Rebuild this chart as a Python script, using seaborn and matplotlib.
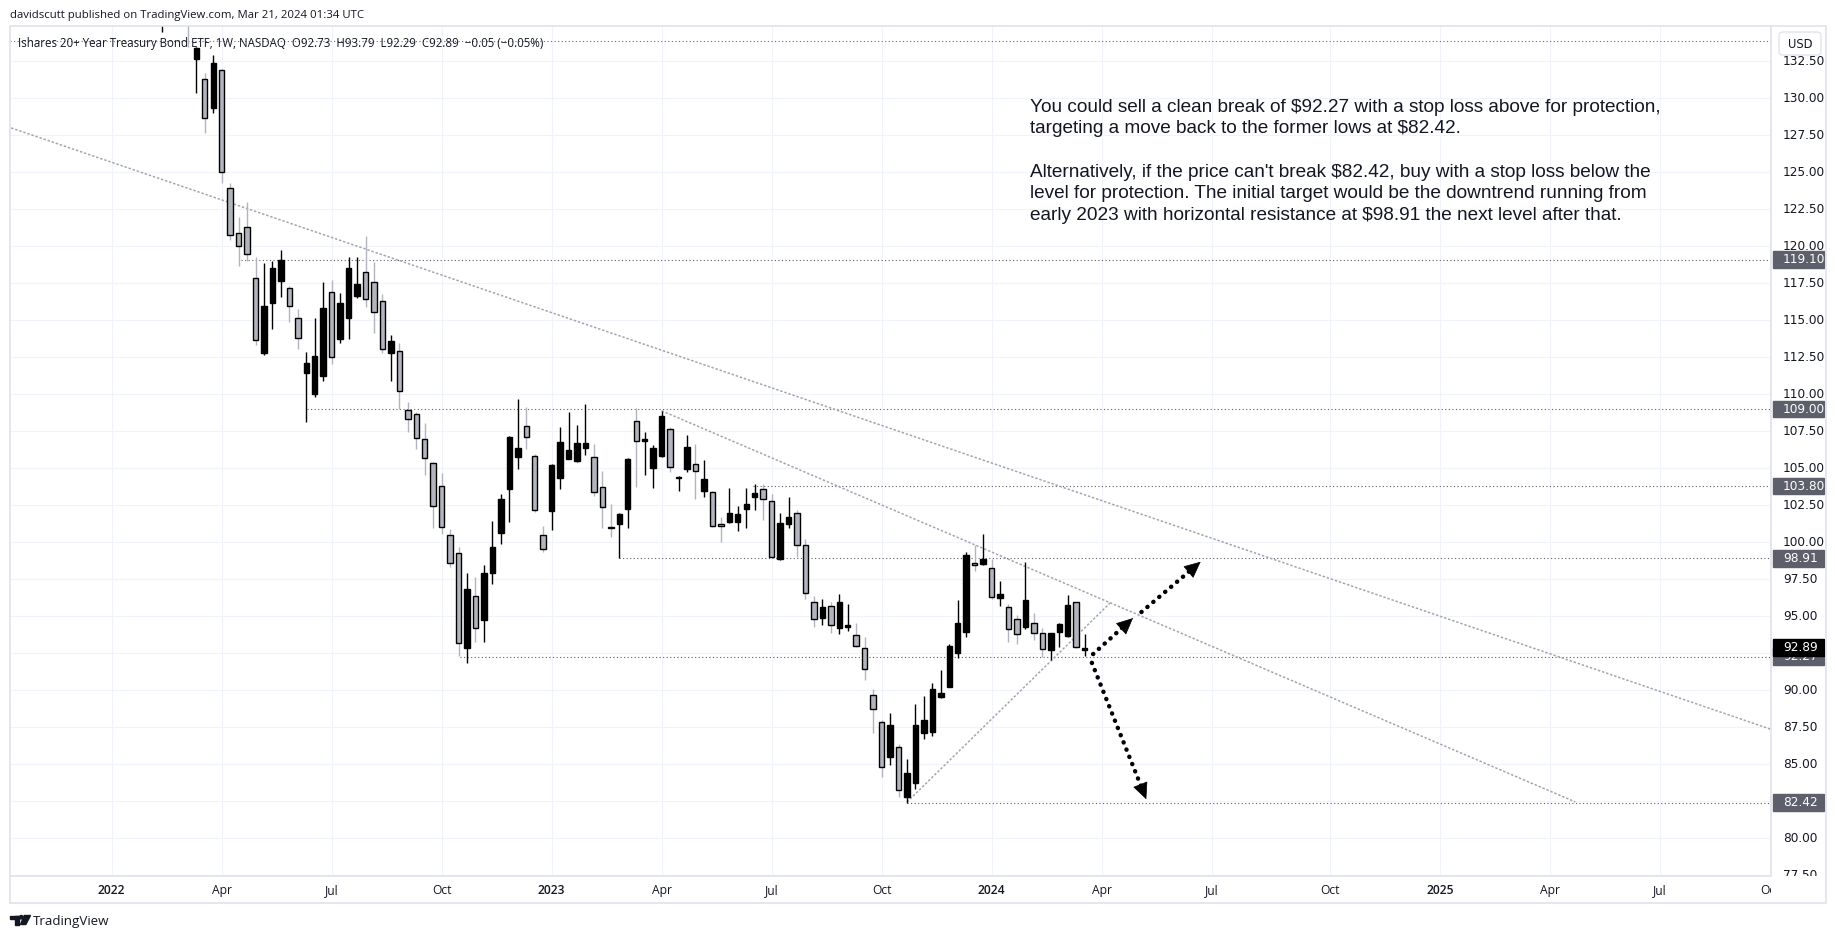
import matplotlib
matplotlib.use("Agg")
import matplotlib.pyplot as plt
from matplotlib.patches import Rectangle, Polygon, Circle, FancyBboxPatch
import matplotlib.dates as mdates
import numpy as np
import pandas as pd
import seaborn as sns

sns.set_theme(style="white")
plt.rcParams['font.family'] = ['Open Sans', 'DejaVu Sans']

# ---------------- data (weekly candles, iShares 20+ Year Treasury Bond ETF) ----------------
first_week = "2022-02-14"
opens = [136.5, 138.4, 136.4, 140.8,
         132.66, 131.28, 129.36, 131.91, 123.92, 120.88, 121.32, 117.84, 112.81, 116.19,
         117.68, 117.16, 115.14, 111.46, 110.02, 111.22, 116.89, 113.76, 115.18, 116.66,
         118.24, 117.61, 116.3, 112.81, 112.9, 108.92, 108.65, 106.96, 105.34, 103.82,
         100.49, 99.26, 92.84, 96.37, 94.78, 97.91, 100.65, 103.58, 105.78, 107.84,
         105.8, 100.47, 102.14, 104.36, 105.63, 105.5, 106.39, 105.74, 103.72, 101.05,
         101.24, 102.23, 108.18, 106.85, 105.04, 105.83, 107.63, 104.35, 104.93, 105.26,
         103.49, 103.38, 101.23, 101.39, 101.35, 102.23, 103.08, 103.58, 102.82, 98.85,
         101.22, 101.96, 99.8, 96.0, 94.9, 95.7, 94.2, 94.25, 93.74, 92.84,
         89.66, 87.84, 85.47, 86.19, 82.81, 83.76, 87.09, 87.2, 89.57, 90.24,
         92.5, 93.96, 98.6, 98.51, 98.24, 96.22, 95.61, 94.8, 94.3, 94.57,
         93.89, 92.72, 93.96, 93.69, 95.95, 92.73]
highs = [139.8, 139.6, 141.8, 141.2,
         133.45, 131.69, 132.93, 132.0, 124.26, 121.96, 122.97, 119.26, 118.85, 119.0,
         119.75, 117.32, 115.74, 112.86, 115.14, 117.57, 117.72, 116.86, 119.26, 119.26,
         120.7, 118.92, 116.76, 113.99, 113.49, 109.5, 108.82, 108.04, 105.41, 104.66,
         100.9, 99.7, 97.95, 97.64, 98.47, 101.44, 103.26, 107.2, 109.68, 109.16,
         106.0, 101.1, 105.29, 107.78, 108.82, 107.95, 109.34, 106.64, 104.84, 102.59,
         101.95, 105.7, 109.06, 107.47, 106.57, 108.89, 107.81, 104.5, 107.24, 106.64,
         105.56, 103.45, 101.73, 103.69, 102.45, 103.69, 103.94, 103.94, 103.26, 101.96,
         103.04, 102.18, 100.2, 96.4, 96.2, 96.0, 96.5, 95.8, 94.53, 93.62,
         90.07, 88.0, 88.45, 86.35, 85.34, 89.07, 89.61, 90.47, 91.37, 93.1,
         96.1, 99.36, 99.82, 100.56, 98.87, 97.39, 95.83, 95.09, 98.69, 95.2,
         94.19, 93.9, 94.57, 96.44, 96.0, 93.79]
lows = [134.5, 135.6, 136.0, 133.47,
        130.34, 127.68, 129.03, 124.3, 120.43, 118.67, 119.03, 113.33, 112.65, 114.39,
        116.6, 114.91, 113.04, 108.15, 109.84, 110.92, 112.05, 113.49, 113.72, 116.49,
        115.92, 114.12, 112.77, 110.92, 108.99, 107.47, 106.28, 104.55, 100.95, 100.56,
        98.31, 92.32, 91.86, 93.28, 93.28, 97.18, 99.86, 101.39, 104.93, 106.28,
        102.07, 99.36, 100.83, 103.58, 105.6, 105.45, 105.9, 103.13, 100.99, 100.34,
        98.92, 100.95, 103.76, 104.55, 103.65, 105.78, 104.77, 103.49, 104.77, 102.91,
        103.04, 101.01, 100.04, 101.28, 100.78, 100.99, 102.18, 101.51, 98.92, 98.8,
        100.99, 99.03, 96.2, 94.3, 94.4, 93.9, 93.8, 94.0, 92.9, 90.7,
        87.14, 84.12, 84.95, 82.81, 82.42, 83.31, 86.69, 86.93, 89.5, 90.2,
        92.16, 93.58, 98.09, 98.45, 96.2, 95.7, 93.28, 93.13, 94.14, 93.4,
        92.27, 92.05, 92.9, 93.6, 92.84, 92.29]
closes = [138.5, 136.2, 140.9, 135.3,
          133.39, 128.65, 132.36, 125.04, 120.76, 120.02, 119.48, 113.67, 115.97, 118.51,
          119.07, 115.99, 113.78, 112.1, 112.59, 115.81, 112.5, 116.15, 118.51, 117.45,
          116.42, 115.56, 113.06, 113.6, 110.2, 108.33, 107.03, 105.68, 102.45, 101.01,
          98.58, 93.18, 96.82, 94.19, 97.95, 99.7, 102.92, 107.09, 106.35, 107.09,
          102.16, 99.53, 105.23, 106.76, 106.24, 106.7, 106.7, 103.38, 102.36, 100.98,
          101.89, 105.63, 106.82, 106.95, 106.38, 108.53, 105.07, 104.42, 106.43, 104.84,
          104.28, 101.1, 101.1, 101.96, 101.89, 102.57, 103.31, 102.91, 98.99, 101.28,
          101.73, 99.82, 96.6, 94.8, 95.6, 94.4, 96.0, 94.4, 93.0, 91.42,
          88.72, 84.8, 87.64, 83.26, 84.39, 87.64, 87.99, 90.07, 89.84, 93.0,
          94.53, 99.14, 98.5, 98.87, 96.28, 96.51, 94.12, 93.78, 96.1, 93.85,
          92.77, 93.85, 94.48, 95.77, 92.94, 92.89]

# horizontal levels: (price, start date); top line spans everything
level_prices = [119.10, 109.00, 103.80, 98.91, 92.27, 82.42]
level_starts = ["2022-04-20", "2022-06-14", "2023-06-18", "2023-02-27", "2022-10-18", "2023-10-23"]
top_line_price = 133.87

# trend lines (date, price) pairs
trend_long = [("2021-10-01", 128.3), ("2025-10-20", 87.0)]
trend_mid = [("2023-04-03", 108.89), ("2025-04-28", 82.46)]
trend_up = [("2023-10-23", 82.45), ("2024-04-08", 95.9)]

# arrows (start date, start price, end date, end price)
arrow_segments = [("2024-03-25", 92.45, "2024-04-27", 94.88),
                  ("2024-05-04", 95.29, "2024-06-22", 98.69),
                  ("2024-03-24", 91.86, "2024-05-08", 82.64)]

price_ticks = np.arange(77.5, 135.0, 2.5)
time_tick_dates = ["2022-01-03", "2022-04-04", "2022-07-04", "2022-10-03", "2023-01-02",
                   "2023-04-03", "2023-07-03", "2023-10-02", "2024-01-01", "2024-04-01",
                   "2024-07-01", "2024-10-07", "2025-01-06", "2025-04-07", "2025-07-07",
                   "2025-10-06"]
time_tick_labels = ["2022", "Apr", "Jul", "Oct", "2023", "Apr", "Jul", "Oct", "2024", "Apr",
                    "Jul", "Oct", "2025", "Apr", "Jul", "Oct"]
last_price = 92.89

note_lines = ["You could sell a clean break of $92.27 with a stop loss above for protection,",
              "targeting a move back to the former lows at $82.42.",
              "",
              "Alternatively, if the price can't break $82.42, buy with a stop loss below the",
              "level for protection. The initial target would be the downtrend running from",
              "early 2023 with horizontal resistance at $98.91 the next level after that."]
header_text = "davidscutt published on TradingView.com, Mar 21, 2024 01:34 UTC"
legend_text = ("Ishares 20+ Year Treasury Bond ETF, 1W, NASDAQ  O92.73  H93.79  L92.29  "
               "C92.89  \u22120.05 (\u22120.05%)")

# ---------------- figure layout ----------------
W, H = 1835, 939
fig = plt.figure(figsize=(W / 100, H / 100), dpi=100)
fig.patch.set_facecolor("white")

PL, PR, PT, PB = 10, 1771, 26, 875.5   # plot pane in pixels
def fr(x0, y0, x1, y1):
    return [x0 / W, 1 - y1 / H, (x1 - x0) / W, (y1 - y0) / H]

ax = fig.add_axes(fr(PL, PT, PR, PB))
ax.set_facecolor("none")
ref = pd.Timestamp("2022-01-03")
xmin = mdates.date2num(ref - pd.Timedelta(days=84.15))
xmax = mdates.date2num(ref + pd.Timedelta(days=1372.9))
ymin, ymax = 77.49, 134.885
ax.set_xlim(xmin, xmax)
ax.set_ylim(ymin, ymax)

tick_nums = mdates.date2num(pd.to_datetime(time_tick_dates))
ax.set_xticks(tick_nums)
ax.set_yticks(price_ticks)
ax.grid(True, color="#f0f3fa", lw=0.8)
ax.tick_params(length=0, labelbottom=False, labelleft=False)
for s in ax.spines.values():
    s.set_visible(False)

df = pd.DataFrame({"date": pd.date_range(first_week, periods=len(opens), freq="7D"),
                   "open": opens, "high": highs, "low": lows, "close": closes})
df["x"] = mdates.date2num(df["date"])
df["up"] = df["close"] >= df["open"]

GRAY = "#b2b5be"
up = df[df["up"]]
dn = df[~df["up"]]
ax.vlines(dn["x"], dn["low"], dn["high"], colors=GRAY, lw=1.0, zorder=3)
ax.vlines(up["x"], up["low"], up["high"], colors="black", lw=1.0, zorder=3)
bw = 4.5
ax.bar(dn["x"], (dn["open"] - dn["close"]).clip(lower=0.06), bottom=dn["close"], width=bw,
       color=GRAY, edgecolor="black", linewidth=1.0, zorder=4)
ax.bar(up["x"], (up["close"] - up["open"]).clip(lower=0.06), bottom=up["open"], width=bw,
       color="black", edgecolor="black", linewidth=1.0, zorder=4)

# horizontal levels
ax.axhline(top_line_price, color="#6a6d78", lw=0.8, ls=(0, (1, 2.2)), zorder=2)
for p, s in zip(level_prices, level_starts):
    ax.hlines(p, mdates.date2num(pd.Timestamp(s)), xmax + 50, color="#5d606b", lw=0.8,
              ls=(0, (1, 2.2)), zorder=2)

# trend lines
for seg in (trend_long, trend_mid, trend_up):
    xs = mdates.date2num(pd.to_datetime([seg[0][0], seg[1][0]]))
    ys = [seg[0][1], seg[1][1]]
    ax.plot(xs, ys, color="#a3a6ae", lw=1.1, ls=(0, (1.6, 1.2)), zorder=2)

# arrows
for sd, sp, ed, ep in arrow_segments:
    x0, x1 = mdates.date2num(pd.Timestamp(sd)), mdates.date2num(pd.Timestamp(ed))
    ax.plot([x0, x1], [sp, ep], color="#000000", lw=3.2, ls=(0, (0.05, 1.7)),
            dash_capstyle="round", solid_capstyle="round", zorder=6)
    xa = x1 - (x1 - x0) * 0.02
    ya = ep - (ep - sp) * 0.02
    ax.annotate("", xy=(x1, ep), xytext=(xa, ya),
                arrowprops=dict(arrowstyle="-|>,head_length=0.9,head_width=0.42",
                                color="black", lw=0.5, shrinkA=0, shrinkB=0),
                zorder=7)

# note text
for i, line in enumerate(note_lines):
    if line:
        fig.text(1030 / W, 1 - (111.7 + 21.7 * i) / H, line, fontsize=13.7,
                 family=["Liberation Sans", "DejaVu Sans"], color="#131722", va="baseline")

# ---------------- price scale ----------------
axr = fig.add_axes(fr(PR, PT, 1826, PB))
axr.set_xlim(0, 55)
axr.set_ylim(ymin, ymax)
axr.axis("off")
for p in price_ticks:
    if min(abs(p - q) for q in level_prices + [last_price]) < 0.6:
        continue   # hidden behind a price label, as in the platform
    axr.text(12, p, f"{p:.2f}", fontsize=8.7, color="#131722", va="center", ha="left",
             family=["DejaVu Sans"], clip_on=True)
half = 0.56
for p in level_prices:
    axr.add_patch(Rectangle((1.5, p - half), 51, 2 * half, color="#5d606b", zorder=5))
    axr.text(12, p, f"{p:.2f}", fontsize=8.7, color="white", va="center", ha="left",
             family=["DejaVu Sans"], zorder=6, clip_on=True)
axr.add_patch(Rectangle((1.5, last_price - half), 51, 2 * half, color="black", zorder=7))
axr.text(12, last_price, f"{last_price:.2f}", fontsize=8.7, color="white", va="center",
         ha="left", family=["DejaVu Sans"], zorder=8, clip_on=True)

# ---------------- time scale ----------------
axb = fig.add_axes(fr(PL, PB, PR, 903))
axb.set_xlim(xmin, xmax)
axb.set_ylim(0, 1)
axb.axis("off")
for t, lab in zip(tick_nums, time_tick_labels):
    axb.text(t, 0.47, lab, fontsize=8.7, color="#131722", ha="center", va="center",
             fontweight="semibold" if lab.isdigit() else "normal", clip_on=True)

# ---------------- frame, header, legend, logo ----------------
ov = fig.add_axes([0, 0, 1, 1], zorder=10)
ov.set_xlim(0, W)
ov.set_ylim(H, 0)
ov.axis("off")
ov.patch.set_alpha(0)
ov.add_patch(Rectangle((PL, PT), 1826 - PL, 903 - PT, fill=False, edgecolor="#e0e3eb", lw=1.2))
ov.plot([PR, PR], [PT, PB], color="#e0e3eb", lw=1.2)
ov.plot([PL, PR], [PB, PB], color="#e0e3eb", lw=1.2)
ov.add_patch(FancyBboxPatch((1779, 32), 42, 23, boxstyle="round,pad=0,rounding_size=4",
                            facecolor="white", edgecolor="#e0e3eb", lw=1.0))
ov.text(1800, 44, "USD", fontsize=8.3, color="#131722", ha="center", va="center",
        family=["DejaVu Sans"])
# logo
ov.add_patch(Rectangle((10, 915.5), 8.5, 3, color="#131722"))
ov.add_patch(Rectangle((14.5, 915.5), 4, 9, color="#131722"))
ov.add_patch(Circle((21.3, 917.2), 1.7, color="#131722"))
ov.add_patch(Polygon([(24.3, 915.5), (30.5, 915.5), (25.8, 924.5), (20.5, 924.5)],
                     closed=True, color="#131722"))
ov.text(33, 925, "TradingView", fontsize=9.6, color="#131722", va="baseline", ha="left")

fig.text(10 / W, 1 - 18.3 / H, header_text, fontsize=8.2, color="#131722", va="baseline")
fig.text(18 / W, 1 - 46.7 / H, legend_text, fontsize=8.3, color="#131722", va="baseline",
         zorder=20)

fig.savefig("out.png", dpi=100, facecolor="white")
